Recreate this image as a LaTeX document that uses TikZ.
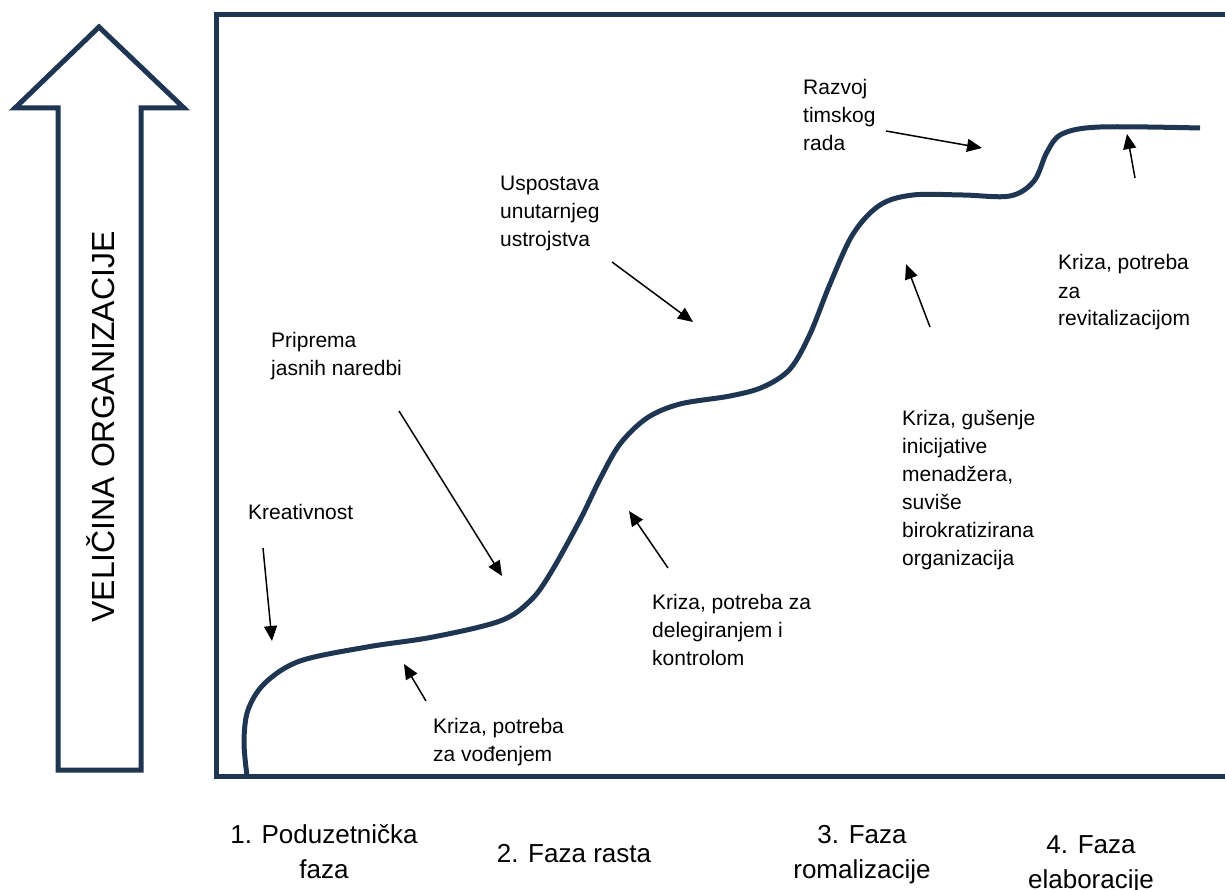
\documentclass[tikz,border=0pt]{standalone}
\usepackage{fontspec}
\setmainfont{Liberation Sans}
\usetikzlibrary{arrows.meta}
\definecolor{navy}{HTML}{1F3652}
\tikzset{
  lbl/.style={font=\fontsize{21}{28}\selectfont, align=left, inner sep=0pt, anchor=base west},
  phase/.style={font=\fontsize{26}{35}\selectfont, align=center, inner sep=0pt, anchor=base},
  ptr/.style={line width=1.5pt, -{Triangle[length=15pt,width=13pt]}},
  navyline/.style={draw=navy, line width=5pt},
}
\begin{document}
\begin{tikzpicture}[x=1pt,y=-1pt]
\useasboundingbox (0,0) rectangle (1225,890);
% big arrow
\draw[navyline, line join=miter] (99,27) -- (184,108) -- (141,108) -- (141,770) -- (58,770) -- (58,108) -- (15,108) -- cycle;
\node[rotate=90, font=\fontsize{32}{38}\selectfont, inner sep=0pt] (axis) at (101,427) {VELIČINA ORGANIZACIJE};
% frame
\draw[navyline, line join=miter] (1225,15) -- (216,15) -- (216,776) -- (1225,776);
% growth curve
\draw[navyline, line cap=butt] plot[smooth, tension=0.55] coordinates {
 (247,776) (244,742) (248,710) (265,683) (300,661) (367,647) (433,637) (500,621)
 (530,601) (550,574) (580,520) (600,479) (620,444) (647,418) (680,404) (730,396)
 (763,387) (790,369) (810,334) (830,284) (853,234) (880,205) (913,195) (963,195)
 (1010,196) (1034,181) (1047,152) (1062,134) (1100,127) (1200,128)};
% labels (anchor = baseline of last line)
\node[lbl] (kre) at (248,519) {Kreativnost};
\node[lbl] (pri) at (271,375) {Priprema\\jasnih naredbi};
\node[lbl] (usp) at (500,247) {Uspostava\\unutarnjeg\\ustrojstva};
\node[lbl] (raz) at (803,151) {Razvoj\\timskog\\rada};
\node[lbl] (kvo) at (433,761) {Kriza, potreba\\za vođenjem};
\node[lbl] (kde) at (652,665) {Kriza, potreba za\\delegiranjem i\\kontrolom};
\node[lbl] (kgu) at (902,565) {Kriza, gušenje\\inicijative\\menadžera,\\suviše\\birokratizirana\\organizacija};
\node[lbl] (kre2) at (1058,326) {Kriza, potreba\\za\\revitalizacijom};
% arrows
\coordinate (a1s) at (263,548); \coordinate (a1e) at (272,641);
\coordinate (a2s) at (399,411); \coordinate (a2e) at (502,576);
\coordinate (a3s) at (612,262); \coordinate (a3e) at (693,322);
\coordinate (a4s) at (886,131); \coordinate (a4e) at (982,148);
\coordinate (a5s) at (426,701); \coordinate (a5e) at (404,664);
\coordinate (a6s) at (668,568); \coordinate (a6e) at (629,511);
\coordinate (a7s) at (930,327); \coordinate (a7e) at (906,264);
\coordinate (a8s) at (1135,178); \coordinate (a8e) at (1127,134);
\draw[ptr] (a1s) -- (a1e);
\draw[ptr] (a2s) -- (a2e);
\draw[ptr] (a3s) -- (a3e);
\draw[ptr] (a4s) -- (a4e);
\draw[ptr] (a5s) -- (a5e);
\draw[ptr] (a6s) -- (a6e);
\draw[ptr] (a7s) -- (a7e);
\draw[ptr] (a8s) -- (a8e);
% phases (anchor = baseline of last line)
\node[phase] (p1) at (324,878) {1. Poduzetnička\\faza};
\node[phase] (p2) at (574,862) {2. Faza rasta};
\node[phase] (p3) at (862,878) {3. Faza\\romalizacije};
\node[phase] (p4) at (1091,888) {4. Faza\\elaboracije};
\end{tikzpicture}
\end{document}
